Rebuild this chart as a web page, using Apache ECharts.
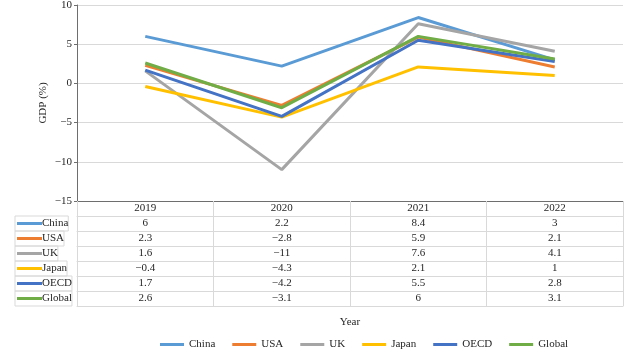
<!DOCTYPE html>
<html>
<head>
<meta charset="utf-8">
<script src="https://cdn.jsdelivr.net/npm/echarts@6/dist/echarts.min.js"></script>
<style>
html, body { margin: 0; padding: 0; background: #fff; }
#chart { width: 640px; height: 350px; }
</style>
</head>
<body>
<div id="chart"></div>
<script>
const years = ['2019', '2020', '2021', '2022'];
const chinaGdp = [6, 2.2, 8.4, 3];
const usaGdp = [2.3, -2.8, 5.9, 2.1];
const ukGdp = [1.6, -11, 7.6, 4.1];
const japanGdp = [-0.4, -4.3, 2.1, 1];
const oecdGdp = [1.7, -4.2, 5.5, 2.8];
const globalGdp = [2.6, -3.1, 6, 3.1];
const seriesNames = ['China', 'USA', 'UK', 'Japan', 'OECD', 'Global'];
const seriesColors = ['#5B9BD5', '#ED7D31', '#A5A5A5', '#FFC000', '#4472C4', '#70AD47'];
const yRange = [-15, 10];
const yStep = 5;

const FONT = 'Liberation Serif';
const TEXT = '#262626';
const BORDER = '#d9d9d9';
const ROW = 15;
const allValues = [chinaGdp, usaGdp, ukGdp, japanGdp, oecdGdp, globalGdp];

// 음수 표시는 진짜 마이너스 기호로
function fmt(v) {
    return String(v).replace('-', '\u2212');
}

/**
 * 데이터 테이블의 한 줄 = 오프셋이 있는 카테고리 축
 */
function rowAxis(k, values, name, color) {
    return {
        type: 'category',
        gridIndex: 0,
        position: 'bottom',
        offset: ROW * (k + 1),
        data: years,
        axisLine: { show: true, onZero: false, lineStyle: { color: BORDER, width: 1 } },
        axisTick: { show: true, interval: 0, length: ROW, lineStyle: { color: BORDER } },
        axisLabel: {
            interval: 0, margin: 2, fontFamily: FONT, fontSize: 11, color: TEXT,
            formatter: (v, i) => fmt(values[i])
        },
        name: '{sw|}' + name,
        nameLocation: 'start',
        nameGap: 62,
        nameMoveOverlap: false,
        nameTextStyle: {
            align: 'left', verticalAlign: 'top',
            width: 60, height: ROW, lineHeight: ROW,
            padding: [0, 0, 0, 2],
            borderColor: BORDER, borderWidth: 1,
            fontFamily: FONT, fontSize: 11, color: TEXT,
            rich: {
                sw: { width: 25, height: 3, backgroundColor: color, verticalAlign: 'middle' }
            }
        }
    };
}

function initChart() {
    const chart = echarts.init(document.getElementById('chart'));

    const xAxes = [{
        type: 'category',
        gridIndex: 0,
        position: 'bottom',
        data: years,
        axisLine: { show: true, onZero: false, lineStyle: { color: '#6e6e6e', width: 1 } },
        axisTick: { show: true, interval: 0, length: ROW, lineStyle: { color: BORDER } },
        axisLabel: { interval: 0, margin: 2, fontFamily: FONT, fontSize: 11, color: TEXT },
        name: 'Year',
        nameLocation: 'middle',
        nameGap: 116,
        nameMoveOverlap: false,
        nameTextStyle: { fontFamily: FONT, fontSize: 11, color: TEXT }
    }];
    seriesNames.forEach((n, k) => xAxes.push(rowAxis(k, allValues[k], n, seriesColors[k])));
    // 테이블 아래 테두리
    xAxes.push({
        type: 'category', gridIndex: 0, position: 'bottom', offset: ROW * 7, data: years,
        axisLine: { show: true, onZero: false, lineStyle: { color: BORDER } },
        axisTick: { show: false }, axisLabel: { show: false }
    });

    const option = {
        animation: false,
        grid: { left: 77, right: 17, top: 5, bottom: 149, outerBoundsMode: 'none' },
        legend: {
            data: seriesNames,
            left: 155, top: 334,
            icon: 'rect', itemWidth: 24, itemHeight: 3, itemGap: 17,
            textStyle: { fontFamily: FONT, fontSize: 11, color: TEXT }
        },
        xAxis: xAxes,
        yAxis: {
            type: 'value',
            min: yRange[0], max: yRange[1], interval: yStep,
            axisLine: { show: true, lineStyle: { color: '#6e6e6e' } },
            axisTick: { show: true, length: 3, lineStyle: { color: '#6e6e6e' } },
            splitLine: { lineStyle: { color: BORDER } },
            axisLabel: { margin: 5, fontFamily: FONT, fontSize: 11, color: TEXT, formatter: v => fmt(v) },
            name: 'GDP (%)',
            nameLocation: 'middle',
            nameGap: 28,
            nameMoveOverlap: false,
            nameTextStyle: { fontFamily: FONT, fontSize: 11, color: TEXT }
        },
        series: seriesNames.map((n, k) => ({
            name: n,
            type: 'line',
            xAxisIndex: 0,
            yAxisIndex: 0,
            data: allValues[k],
            symbol: 'none',
            lineStyle: { width: 3, color: seriesColors[k] },
            itemStyle: { color: seriesColors[k] }
        }))
    };
    chart.setOption(option);
}

document.addEventListener('DOMContentLoaded', initChart);
</script>
</body>
</html>
